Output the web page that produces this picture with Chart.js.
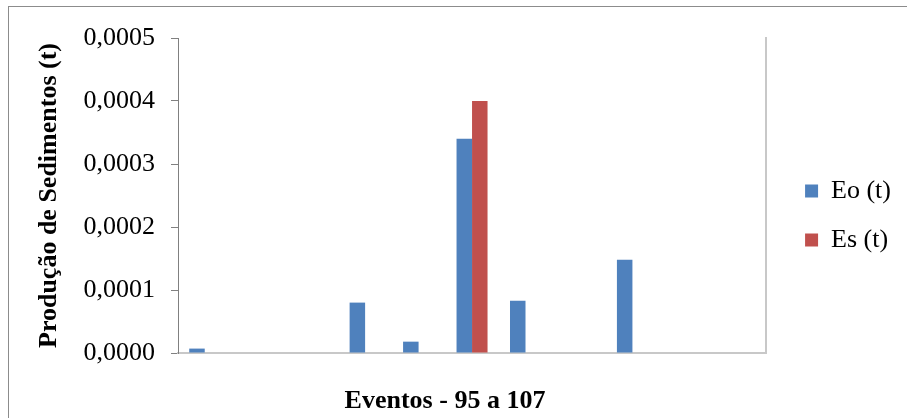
<!DOCTYPE html>
<html>
<head>
<meta charset="utf-8">
<script src="https://cdn.jsdelivr.net/npm/chart.js@4.4.1/dist/chart.umd.min.js"></script>
<style>
  body { margin: 0; background: #fff; }
  #moldura { position: absolute; left: 8px; top: 6px; width: 1000px; height: 1000px; border: 1px solid #8c8c8c; }
  #wrap { position: absolute; left: 0; top: 0; width: 907px; height: 418px; }
</style>
</head>
<body>
<div id="moldura"></div>
<div id="wrap"><canvas id="grafico"></canvas></div>
<script>
// eventos no eixo x (rótulos não exibidos)
const eventos = ['95', '96', '97', '98', '99', '100', '101', '102', '103', '104', '105'];
// produção observada e simulada (t)
const eo = [0.000007, 0, 0, 0.00008, 0.000018, 0.00034, 0.000083, 0, 0.000148, 0, 0];
const es = [0, 0, 0, 0, 0, 0.0004, 0, 0, 0, 0, 0];
const tituloX = 'Eventos - 95 a 107';
const tituloY = 'Produção de Sedimentos (t)';

const fonte = 'Liberation Serif, Times New Roman, serif';

// título do eixo x desenhado à parte
const tituloEixoX = {
    id: 'tituloEixoX',
    afterDraw(chart) {
        const ctx = chart.ctx;
        ctx.save();
        ctx.font = 'bold 26px ' + fonte;
        ctx.fillStyle = '#000';
        ctx.textAlign = 'center';
        ctx.textBaseline = 'middle';
        ctx.fillText(tituloX, 445, 401);
        ctx.restore();
    }
};

new Chart(document.getElementById('grafico'), {
    type: 'bar',
    data: {
        labels: eventos,
        datasets: [
            { label: 'Eo (t)', data: eo, backgroundColor: '#4F81BD', borderWidth: 0 },
            { label: 'Es (t)', data: es, backgroundColor: '#C0504D', borderWidth: 0 }
        ]
    },
    options: {
        responsive: true,
        maintainAspectRatio: false,
        animation: false,
        layout: { padding: { left: 12, top: 38, bottom: 57, right: 6 } },
        datasets: { bar: { categoryPercentage: 0.58, barPercentage: 1 } },
        plugins: {
            tooltip: { enabled: false },
            legend: {
                position: 'right',
                // título vazio só para descer os itens
                title: { display: true, text: ' ', font: { size: 10 }, padding: { top: 0, bottom: 20 } },
                labels: {
                    font: { family: fonte, size: 26 },
                    color: '#000',
                    boxWidth: 13,
                    boxHeight: 13,
                    padding: 23
                }
            }
        },
        scales: {
            x: {
                ticks: { display: false },
                grid: { display: false },
                border: { color: '#c8c8c8', width: 2 }
            },
            y: {
                min: 0,
                max: 0.0005,
                ticks: {
                    stepSize: 0.0001,
                    padding: 16,
                    color: '#000',
                    font: { family: fonte, size: 26 },
                    callback: (v) => v.toFixed(4).replace('.', ',')
                },
                grid: { drawOnChartArea: false, drawTicks: true, tickLength: 7, color: '#808080' },
                border: { color: '#808080', width: 1 },
                title: {
                    display: true,
                    text: tituloY,
                    color: '#000',
                    font: { family: fonte, size: 26, weight: 'bold' },
                    padding: { top: 22, bottom: 18 }
                },
                afterFit: (s) => { s.width = 166; }
            },
            y2: {
                position: 'right',
                min: 0,
                max: 0.0005,
                ticks: { display: false },
                grid: { display: false },
                border: { color: '#c8c8c8', width: 2 },
                afterFit: (s) => { s.width = 16; }
            }
        }
    },
    plugins: [tituloEixoX]
});
</script>
</body>
</html>
